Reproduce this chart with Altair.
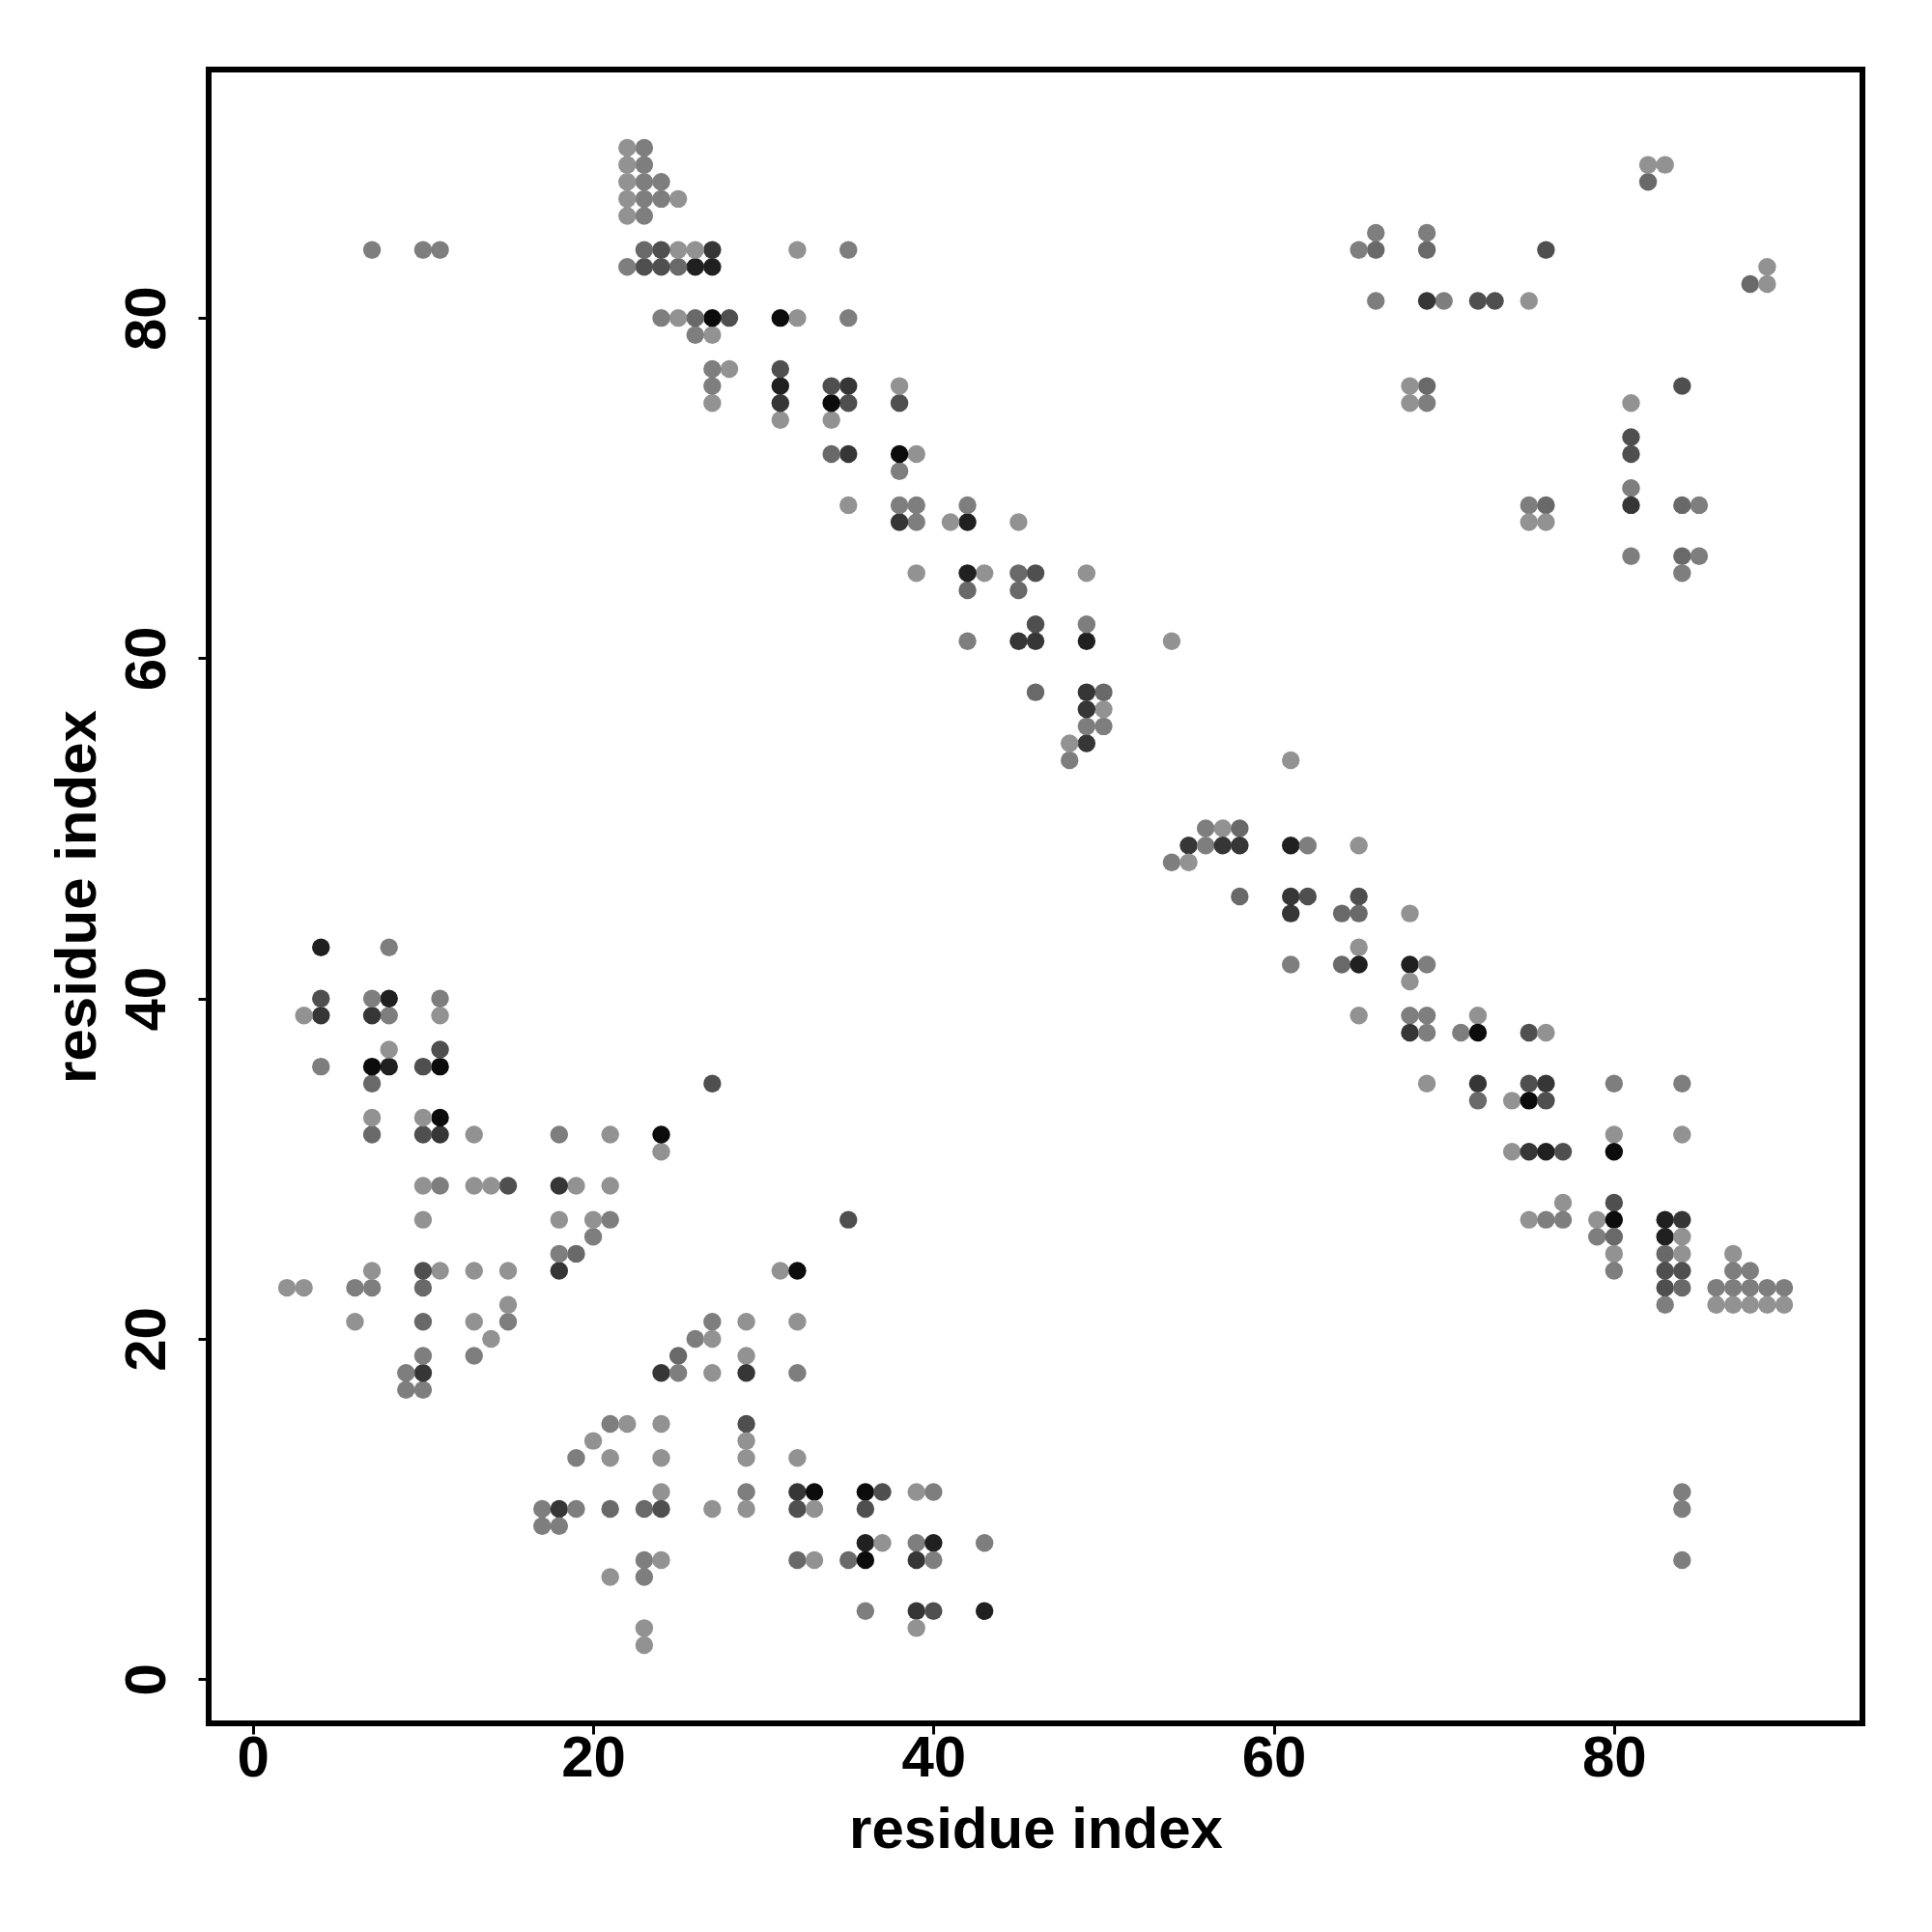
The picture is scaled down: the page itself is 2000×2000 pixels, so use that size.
import altair as alt
import pandas as pd

# grey-level contact strength (0 = light grey, 1 = black)
L, G, M, D, K, B, X = 0.05, 0.18, 0.32, 0.49, 0.65, 0.79, 0.92

# contacts (i > j); the map shows each contact at (i, j) and at (j, i)
band_contacts = [
    (61, 54, L),
    (56, 50, G), (57, 50, L), (58, 50, M),
    (55, 49, K), (56, 49, G), (57, 49, K), (58, 49, K), (61, 49, B), (62, 49, G), (65, 49, L),
    (54, 48, G), (55, 48, L),
    (58, 46, M), (61, 46, K), (62, 46, D), (65, 46, D),
    (61, 45, K), (64, 45, M), (65, 45, M), (68, 45, L),
    (65, 43, L),
    (61, 42, G), (64, 42, M), (65, 42, B), (68, 42, B), (69, 42, G),
    (68, 41, L),
    (65, 39, L), (68, 39, G), (69, 39, G), (72, 39, L),
    (68, 38, K), (69, 38, G), (71, 38, G), (72, 38, X), (75, 38, D), (76, 38, L),
    (69, 35, L), (72, 35, K), (75, 35, D), (76, 35, K), (80, 35, G), (84, 35, G),
    (72, 34, M), (74, 34, L), (75, 34, X), (76, 34, D),
    (80, 32, L), (84, 32, L),
    (74, 31, L), (75, 31, K), (76, 31, B), (77, 31, D), (80, 31, X),
    (77, 28, L), (80, 28, D),
    (75, 27, L), (76, 27, G), (77, 27, G), (79, 27, L), (80, 27, X), (83, 27, B), (84, 27, K),
    (79, 26, G), (80, 26, M), (83, 26, B), (84, 26, L),
    (80, 25, L), (83, 25, M), (84, 25, L), (87, 25, L),
    (80, 24, G), (83, 24, D), (84, 24, D), (87, 24, G), (88, 24, G),
    (83, 23, D), (84, 23, M), (86, 23, G), (87, 23, G), (88, 23, G), (89, 23, G), (90, 23, G),
    (83, 22, G), (86, 22, L), (87, 22, L), (88, 22, L), (89, 22, L), (90, 22, L),
]

corner_contacts = [
    (89, 83, L), (88, 82, M), (89, 82, L),
    (84, 76, D),
    (81, 75, L),
    (81, 73, D), (81, 72, D),
    (81, 70, G), (81, 69, K), (84, 69, M), (85, 69, G),
    (75, 69, G), (76, 69, M), (75, 68, L), (76, 68, L),
    (81, 66, G), (84, 66, M), (85, 66, G), (84, 65, G),
    (84, 11, G), (84, 10, G), (84, 7, G),
]

cluster_contacts = [
    (35, 27, D),
    (31, 24, L), (32, 24, X),
    (27, 21, G), (29, 21, L), (32, 21, L),
    (26, 20, G), (27, 20, L),
    (25, 19, M), (29, 19, L),
    (24, 18, K), (25, 18, G), (27, 18, L), (29, 18, K), (32, 18, G),
    (21, 15, G), (22, 15, L), (24, 15, L), (29, 15, D),
    (20, 14, L), (29, 14, L),
    (19, 13, G), (21, 13, L), (24, 13, L), (29, 13, L), (32, 13, L),
    (24, 11, L), (29, 11, G), (32, 11, K), (33, 11, X), (36, 11, X), (37, 11, D), (39, 11, L), (40, 11, G),
    (17, 10, G), (18, 10, K), (19, 10, G), (21, 10, M), (23, 10, M), (24, 10, D), (27, 10, L),
    (29, 10, L), (32, 10, D), (33, 10, L), (36, 10, D),
    (17, 9, G), (18, 9, G),
    (36, 8, B), (37, 8, L), (39, 8, G), (40, 8, B), (43, 8, G),
    (23, 7, G), (24, 7, L), (32, 7, M), (33, 7, L), (35, 7, M), (36, 7, X), (39, 7, K), (40, 7, G),
    (21, 6, L), (23, 6, G),
    (36, 4, G), (39, 4, K), (40, 4, D), (43, 4, B),
    (23, 3, L), (39, 3, L),
    (23, 2, L),
]

tick_values = [0, 20, 40, 60, 80]
axis_title = "residue index"

contacts = band_contacts + corner_contacts + cluster_contacts
df = pd.DataFrame(contacts, columns=["i", "j", "score"])

FONT = "Liberation Sans"
dom = [-2.6, 94.6]
W = 1712

common_axis = dict(
    values=tick_values, format="d", grid=False, domain=False,
    labelFont=FONT, labelFontSize=60, labelFontWeight="bold", labelColor="black",
    labelFlush=False, labelOverlap=False,
    tickColor="black", tickWidth=3, tickSize=11,
    title=axis_title, titleFont=FONT, titleFontSize=60, titleFontWeight="bold",
    titleColor="black", titleBaseline="alphabetic",
)

x_axis = alt.Axis(labelPadding=43, labelBaseline="alphabetic",
                  titleX=W / 2, titleY=128, titleAlign="center", **common_axis)
y_axis = alt.Axis(labelAngle=270, labelAlign="center", labelBaseline="alphabetic",
                  labelPadding=35, titleAngle=270, titleAlign="center",
                  titleX=-118, titleY=W / 2, **common_axis)

xs = alt.Scale(domain=dom, nice=False, zero=False)
ys = alt.Scale(domain=dom, nice=False, zero=False)
cs = alt.Scale(domain=[0, 1], range=["#9a9a9a", "#000000"], interpolate="rgb")

base = alt.Chart(df)
lower = base.mark_circle(size=340, opacity=1).encode(
    x=alt.X("i:Q", scale=xs, axis=x_axis),
    y=alt.Y("j:Q", scale=ys, axis=y_axis),
    color=alt.Color("score:Q", scale=cs, legend=None),
)
upper = base.mark_circle(size=340, opacity=1).encode(
    x=alt.X("j:Q", scale=xs, axis=x_axis),
    y=alt.Y("i:Q", scale=ys, axis=y_axis),
    color=alt.Color("score:Q", scale=cs, legend=None),
)

chart = alt.layer(lower, upper).properties(
    width=W, height=W,
    autosize=alt.AutoSizeParams(type="none"),
    padding={"left": 208, "top": 64, "right": 40, "bottom": 200},
    background="white",
).configure_view(stroke="black", strokeWidth=6)

chart.save("out.html", embed_options={"renderer": "svg", "actions": False})
